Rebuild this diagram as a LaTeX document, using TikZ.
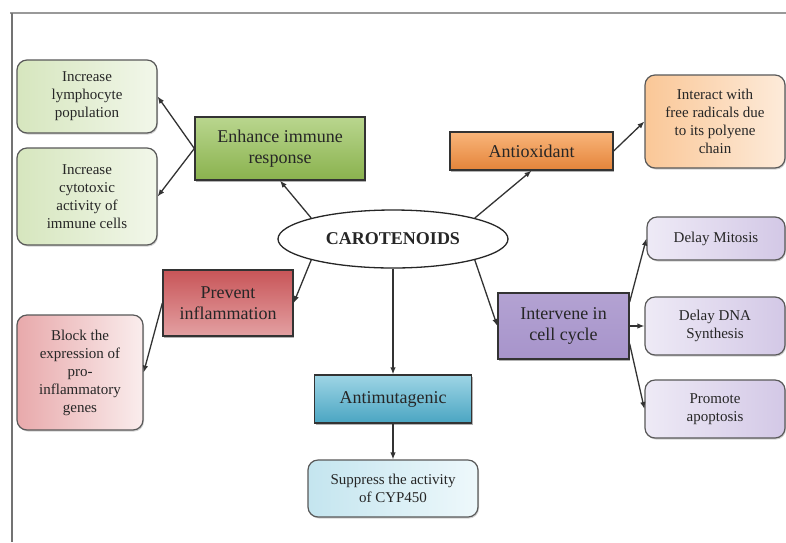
\documentclass[tikz,border=0pt]{standalone}
\usepackage{fontspec}
\newfontfamily\boxfont{Liberation Serif}
\usetikzlibrary{shapes.geometric,shadows,arrows.meta}
\definecolor{txt}{HTML}{262626}
% branch colours
\definecolor{grnA}{HTML}{B9D68E}\definecolor{grnB}{HTML}{98BF5C}\definecolor{grnC}{HTML}{8AB24E}
\definecolor{grnL}{HTML}{D6E6BE}\definecolor{grnR}{HTML}{F2F7EA}
\definecolor{orgA}{HTML}{F9B57A}\definecolor{orgB}{HTML}{F39A50}\definecolor{orgC}{HTML}{E4843A}
\definecolor{orgL}{HTML}{FAC797}\definecolor{orgR}{HTML}{FDEBDA}
\definecolor{redA}{HTML}{C85558}\definecolor{redB}{HTML}{D26E70}\definecolor{redC}{HTML}{E3A0A2}
\definecolor{redL}{HTML}{E8A9AB}\definecolor{redR}{HTML}{FAEDED}
\definecolor{bluA}{HTML}{9ED5E5}\definecolor{bluB}{HTML}{5AB3CE}\definecolor{bluC}{HTML}{4AA5C2}
\definecolor{bluL}{HTML}{C4E5EF}\definecolor{bluR}{HTML}{EEF8FB}
\definecolor{vioA}{HTML}{B3A2D2}\definecolor{vioB}{HTML}{9079BA}\definecolor{vioC}{HTML}{A794CB}
\definecolor{vioL}{HTML}{EEEAF6}\definecolor{vioR}{HTML}{D3C8E6}
\begin{document}
\begin{tikzpicture}[x=1pt,y=-1pt,
  mainbox/.style={draw=black!80, line width=1.3pt, align=center, text=txt,
    font=\boxfont\fontsize{18}{21.5}\selectfont, inner sep=2pt,
    drop shadow={shadow xshift=1.2pt, shadow yshift=-2pt, opacity=0.6}},
  subbox/.style={draw=black!65, line width=1.2pt, rounded corners=10pt, align=center, text=txt,
    font=\boxfont\fontsize{15}{18}\selectfont, inner sep=2pt,
    drop shadow={shadow xshift=1pt, shadow yshift=-1.5pt, opacity=0.35}},
  link/.style={-{Latex[length=7pt,width=5.5pt]}, line width=1.3pt, black!80},
]
\useasboundingbox[fill=white] (0,0) rectangle (786,542);

% page frame
\draw[line width=2pt, black!40] (10,13) -- (786,13);
\draw[line width=1.5pt, black!55] (12,13) -- (12,542);

% centre
\node[ellipse, draw=black!85, line width=1.3pt, fill=white, minimum width=230pt, minimum height=58pt,
  font=\boxfont\fontsize{18}{21.5}\selectfont\bfseries, text=txt] (caro) at (393,239) {CAROTENOIDS};

% immune branch
\node[mainbox, top color=grnA, middle color=grnB, bottom color=grnC,
  minimum width=170pt, minimum height=63pt] (enh) at (280,148.5)
  {Enhance immune\\response};
\node[subbox, left color=grnL, right color=grnR,
  minimum width=140pt, minimum height=73pt] (lymph) at (87,96.5)
  {Increase\\lymphocyte\\population};
\node[subbox, left color=grnL, right color=grnR,
  minimum width=140pt, minimum height=97pt] (cyto) at (87,196.5)
  {Increase\\cytotoxic\\activity of\\immune cells};

% antioxidant branch
\node[mainbox, top color=orgA, middle color=orgB, bottom color=orgC,
  minimum width=163pt, minimum height=38pt] (anti) at (531.5,151) {Antioxidant};
\node[subbox, left color=orgL, right color=orgR,
  minimum width=140pt, minimum height=93pt] (inter) at (715,121.5)
  {Interact with\\free radicals due\\to its polyene\\chain};

% inflammation branch
\node[mainbox, top color=redA, middle color=redB, bottom color=redC,
  minimum width=130pt, minimum height=66pt] (prev) at (228,303)
  {Prevent\\inflammation};
\node[subbox, left color=redL, right color=redR,
  minimum width=126pt, minimum height=115pt] (block) at (80,372.5)
  {Block the\\expression of\\pro-\\inflammatory\\genes};

% antimutagenic branch
\node[mainbox, top color=bluA, middle color=bluB, bottom color=bluC,
  minimum width=157pt, minimum height=48pt] (amut) at (393,399)
  {Antimutagenic};
\node[subbox, left color=bluL, right color=bluR,
  minimum width=170pt, minimum height=57pt] (supp) at (393,488.5)
  {Suppress the activity\\of CYP450};

% cell cycle branch
\node[mainbox, top color=vioA, middle color=vioB, bottom color=vioC,
  minimum width=131pt, minimum height=66pt] (cycle) at (563.5,326)
  {Intervene in\\cell cycle};
\node[subbox, left color=vioL, right color=vioR,
  minimum width=138pt, minimum height=43pt] (mitos) at (716,238.5) {Delay Mitosis};
\node[subbox, left color=vioL, right color=vioR,
  minimum width=140pt, minimum height=58pt] (dna) at (715,326) {Delay DNA\\Synthesis};
\node[subbox, left color=vioL, right color=vioR,
  minimum width=140pt, minimum height=58pt] (apop) at (715,409) {Promote\\apoptosis};

% connectors
\draw[link] (caro.north west) -- (enh.south);
\draw[link] (enh.west) -- (lymph.east);
\draw[link] (enh.west) -- (cyto.east);
\draw[link] (caro.north east) -- (anti.south);
\draw[link] (anti.east) -- (inter.west);
\draw[link] (caro.south west) -- (prev.east);
\draw[link] (prev.west) -- (block.east);
\draw[link] (caro.south) -- (amut.north);
\draw[link] (amut.south) -- (supp.north);
\draw[link] (caro.south east) -- (cycle.west);
\draw[link] (cycle.20) -- (mitos.west);
\draw[link] (cycle.east) -- (dna.west);
\draw[link] (cycle.-15) -- (apop.west);
\end{tikzpicture}
\end{document}
